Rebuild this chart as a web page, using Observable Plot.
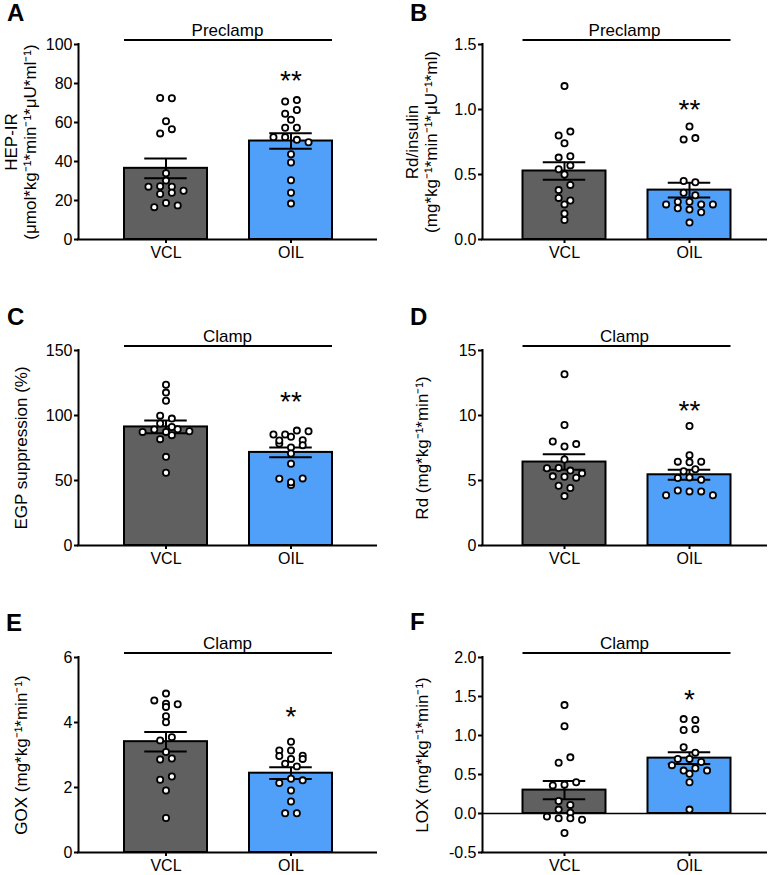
<!DOCTYPE html>
<html>
<head>
<meta charset="utf-8">
<script src="https://cdn.jsdelivr.net/npm/d3@7"></script>
<script src="https://cdn.jsdelivr.net/npm/@observablehq/plot@0.6"></script>
<style>
  html, body { margin: 0; padding: 0; background: #fff; }
  #fig { position: relative; width: 775px; height: 875px; overflow: hidden;
         font-family: "Liberation Sans", Arial, Helvetica, sans-serif; color: #000; }
  .panel { position: absolute; }
  .panel svg { display: block; }
  .letter { position: absolute; font-weight: bold; font-size: 24px; line-height: 20px; }
</style>
</head>
<body>
<div id="fig"></div>
<script>
// ---------------- data ----------------
const groups = ["VCL", "OIL"];
const panelLetters = ["A", "B", "C", "D", "E", "F"];
const phaseLabels = ["Preclamp", "Preclamp", "Clamp", "Clamp", "Clamp", "Clamp"];
const yLabels = [
  "HEP-IR\n(μmol*kg⁻¹*min⁻¹*μU*ml⁻¹)",
  "Rd/insulin\n(mg*kg⁻¹*min⁻¹*μU⁻¹*ml)",
  "EGP suppression (%)",
  "Rd (mg*kg⁻¹*min⁻¹)",
  "GOX (mg*kg⁻¹*min⁻¹)",
  "LOX (mg*kg⁻¹*min⁻¹)"
];
const sigLabels = ["**", "**", "**", "**", "*", "*"];
const sigLevels = [84.7, 1.05, 115.5, 10.9, 4.38, 1.55];

// A: HEP-IR
const hepVCL = [72.6, 72.4, 60.7, 54.4, 56.6, 34.0, 27.1, 30.2, 27.3, 27.1, 25.0, 23.3, 24.0, 16.6, 18.7, 17.5];
const hepOIL = [70.8, 71.5, 64.5, 66.4, 61.4, 57.3, 57.3, 52.5, 52.5, 51.1, 49.9, 43.7, 39.5, 30.4, 24.0, 18.4];
const hepMean = [36.5, 50.5];
const hepSem = [5.1, 4.0];
const hepTicks = [0, 20, 40, 60, 80, 100];

// B: Rd/insulin
const rdInsVCL = [1.18, 0.80, 0.83, 0.74, 0.63, 0.64, 0.54, 0.57, 0.50, 0.38, 0.42, 0.32, 0.30, 0.27, 0.15, 0.20];
const rdInsOIL = [0.87, 0.77, 0.78, 0.45, 0.44, 0.36, 0.34, 0.27, 0.29, 0.29, 0.27, 0.27, 0.24, 0.23, 0.21, 0.13];
const rdInsMean = [0.527, 0.38];
const rdInsSem = [0.068, 0.057];
const rdInsTicks = [0, 0.5, 1.0, 1.5];

// C: EGP suppression
const egpVCL = [123.7, 117.6, 111.4, 99.9, 97.6, 93.8, 87.4, 89.2, 87.4, 91.2, 89.4, 87.9, 81.8, 84.9, 68.2, 56.0];
const egpOIL = [85.4, 85.4, 88.4, 87.9, 78.5, 80.8, 83.6, 81.0, 75.4, 77.2, 70.8, 62.9, 51.4, 46.5, 48.6, 51.6];
const egpMean = [91.2, 71.6];
const egpSem = [4.9, 3.7];
const egpTicks = [0, 50, 100, 150];

// D: Rd
const rdVCL = [13.17, 9.27, 8.0, 7.62, 7.80, 6.61, 5.94, 5.96, 5.76, 5.32, 5.29, 5.55, 5.22, 4.60, 4.42, 3.80];
const rdOIL = [9.19, 6.95, 6.45, 6.40, 6.45, 5.71, 5.86, 5.19, 5.24, 5.06, 3.87, 4.23, 4.16, 4.16, 3.87];
const rdMean = [6.42, 5.44];
const rdSem = [0.60, 0.39];
const rdTicks = [0, 5, 10, 15];

// E: GOX
const goxVCL = [4.89, 4.68, 4.58, 4.48, 4.56, 4.19, 4.01, 3.45, 3.55, 3.09, 2.86, 2.89, 2.24, 2.34, 1.91, 1.06];
const goxOIL = [3.41, 3.14, 3.14, 2.98, 2.97, 2.88, 2.88, 2.73, 2.65, 2.14, 2.27, 2.22, 1.91, 1.57, 1.21, 1.21];
const goxMean = [3.41, 2.44];
const goxSem = [0.30, 0.18];
const goxTicks = [0, 2, 4, 6];

// F: LOX
const loxVCL = [1.39, 1.12, 0.65, 0.72, 0.36, 0.37, 0.40, 0.16, 0.11, 0.05, 0.01, -0.04, -0.06, -0.06, -0.08, -0.25];
const loxOIL = [1.21, 1.20, 1.07, 1.08, 0.85, 0.78, 0.70, 0.70, 0.66, 0.62, 0.55, 0.58, 0.55, 0.51, 0.40, 0.05];
const loxMean = [0.30, 0.71];
const loxSem = [0.118, 0.075];
const loxTicks = [-0.5, 0, 0.5, 1.0, 1.5, 2.0];

// ---------------- build panels from the arrays ----------------
const intFmt = d => String(d);
const dec1Fmt = d => d.toFixed(1);
const panels = [
  {vcl: hepVCL, oil: hepOIL, mean: hepMean, sem: hepSem, ticks: hepTicks, fmt: intFmt},
  {vcl: rdInsVCL, oil: rdInsOIL, mean: rdInsMean, sem: rdInsSem, ticks: rdInsTicks, fmt: dec1Fmt},
  {vcl: egpVCL, oil: egpOIL, mean: egpMean, sem: egpSem, ticks: egpTicks, fmt: intFmt},
  {vcl: rdVCL, oil: rdOIL, mean: rdMean, sem: rdSem, ticks: rdTicks, fmt: intFmt},
  {vcl: goxVCL, oil: goxOIL, mean: goxMean, sem: goxSem, ticks: goxTicks, fmt: intFmt},
  {vcl: loxVCL, oil: loxOIL, mean: loxMean, sem: loxSem, ticks: loxTicks, fmt: dec1Fmt}
].map((p, k) => ({...p, letter: panelLetters[k], phase: phaseLabels[k], yLabel: yLabels[k], sig: sigLabels[k], sigLevel: sigLevels[k]}));

// ---------------- layout & style ----------------
const BAR_COLORS = ["#606060", "#50a0fa"];
const FRAME_H = 195, HALF_BAR = 0.332, CAP = 0.17, STEP_PX = 11.7, ROW_PX = 5.5;
const TICK_FONT = 16, TITLE_FONT = 17;
const COLS = [
  {left: 0, width: 385, marginLeft: 78, marginRight: 9, xDomain: [-0.7, 1.684], labelDx: -58},
  {left: 385, width: 390, marginLeft: 97, marginRight: 9, xDomain: [-0.656, 1.616], labelDx: -61}
];
const ROWS = [
  {top: 0, marginTop: 44, marginBottom: 30},
  {top: 280, marginTop: 70, marginBottom: 30},
  {top: 570, marginTop: 87, marginBottom: 23}
];
const LETTER_POS = [[7, 3], [410, 3], [7, 307], [410, 307], [6, 613], [410, 612]];

// Column-scatter layout: points whose values fall within one dot height share a centred row.
function swarm(vals, pxPerY, pxPerX) {
  const idx = d3.range(vals.length).sort((a, b) => vals[b] - vals[a] || a - b);
  const off = new Array(vals.length).fill(0);
  let k = 0;
  while (k < idx.length) {
    const top = vals[idx[k]];
    const row = [];
    while (k < idx.length && (top - vals[idx[k]]) * pxPerY < ROW_PX) row.push(idx[k++]);
    row.sort((a, b) => a - b);
    row.forEach((j, r) => { off[j] = (r - (row.length - 1) / 2) * STEP_PX / pxPerX; });
  }
  return off;
}

const fig = document.getElementById("fig");
panels.forEach((p, k) => {
  const col = COLS[k % 2], row = ROWS[Math.floor(k / 2)];
  const height = row.marginTop + FRAME_H + row.marginBottom;
  const yDomain = [p.ticks[0], p.ticks[p.ticks.length - 1]];
  const pxX = (col.width - col.marginLeft - col.marginRight) / (col.xDomain[1] - col.xDomain[0]);
  const pxY = FRAME_H / (yDomain[1] - yDomain[0]);

  const dots = [];
  [p.vcl, p.oil].forEach((vals, gi) => {
    const off = swarm(vals, pxY, pxX);
    vals.forEach((v, j) => dots.push({x: gi + off[j], v}));
  });
  const bars = groups.map((g, i) => ({g, i, m: p.mean[i], s: p.sem[i]}));
  const caps = bars.flatMap(d => [{i: d.i, y: d.m + d.s}, {i: d.i, y: d.m - d.s}]);

  const chart = Plot.plot({
    width: col.width,
    height,
    marginLeft: col.marginLeft,
    marginRight: col.marginRight,
    marginTop: row.marginTop,
    marginBottom: row.marginBottom,
    x: {domain: col.xDomain},
    y: {domain: yDomain},
    color: {domain: groups, range: BAR_COLORS},
    style: {fontFamily: '"Liberation Sans", Arial, Helvetica, sans-serif', fontSize: TICK_FONT + "px", color: "black", background: "transparent", overflow: "visible"},
    marks: [
      Plot.rectY(bars, {x1: d => d.i - HALF_BAR, x2: d => d.i + HALF_BAR, y1: () => 0, y2: "m", fill: "g", stroke: "black", strokeWidth: 2}),
      yDomain[0] < 0 ? Plot.ruleY([0], {stroke: "black", strokeWidth: 1.5}) : null,
      Plot.ruleX(bars, {x: "i", y1: d => d.m - d.s, y2: d => d.m + d.s, stroke: "black", strokeWidth: 2}),
      Plot.ruleY(caps, {y: "y", x1: d => d.i - CAP, x2: d => d.i + CAP, stroke: "black", strokeWidth: 2}),
      Plot.dot(dots, {x: "x", y: "v", r: 3.1, fill: "white", stroke: "black", strokeWidth: 1.8}),
      Plot.ruleX([col.xDomain[0]], {stroke: "black", strokeWidth: 2, strokeLinecap: "square"}),
      Plot.ruleY([yDomain[0]], {stroke: "black", strokeWidth: 2, strokeLinecap: "square"}),
      Plot.axisY({ticks: p.ticks, tickFormat: p.fmt, tickSize: 4, tickPadding: 2, strokeWidth: 2, fontSize: TICK_FONT, label: null}),
      Plot.axisX({ticks: [0, 1], tickFormat: i => groups[i], tickSize: 4, tickPadding: 3, strokeWidth: 2, fontSize: TICK_FONT, label: null}),
      Plot.text([p.yLabel], {text: d => d, frameAnchor: "left", textAnchor: "middle", lineAnchor: "middle", dx: col.labelDx, rotate: -90, lineHeight: 1.12, fontSize: TITLE_FONT}),
      Plot.ruleY([yDomain[1]], {x1: () => -HALF_BAR, x2: () => 1 + HALF_BAR, dy: -4.5, stroke: "black", strokeWidth: 2}),
      Plot.text([p.phase], {text: d => d, frameAnchor: "top", lineAnchor: "bottom", dy: -8.5, fontSize: TITLE_FONT}),
      Plot.text([p.sig], {text: d => d, x: () => 1, y: () => p.sigLevel, fontSize: 28, dy: 7})
    ]
  });

  const holder = document.createElement("div");
  holder.className = "panel";
  holder.style.left = col.left + "px";
  holder.style.top = row.top + "px";
  holder.appendChild(chart);
  fig.appendChild(holder);

  const letter = document.createElement("div");
  letter.className = "letter";
  letter.textContent = p.letter;
  letter.style.left = LETTER_POS[k][0] + "px";
  letter.style.top = LETTER_POS[k][1] + "px";
  fig.appendChild(letter);
});
</script>
</body>
</html>
